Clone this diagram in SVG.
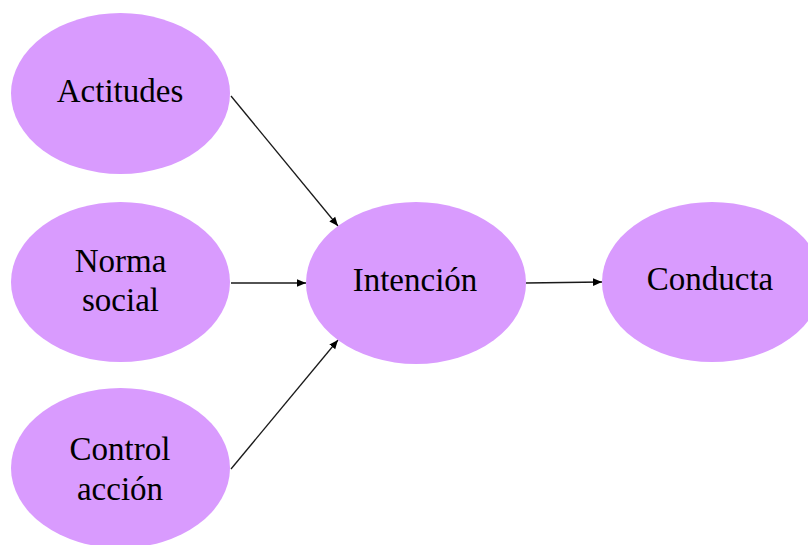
<svg xmlns="http://www.w3.org/2000/svg" width="808" height="545" viewBox="0 0 808 545">
  <style>
    .node { fill: #D99BFE; stroke: none; }
    .label { font-family: "Liberation Serif", "Times New Roman", serif; font-size: 33px; fill: #000; text-anchor: middle; }
    .edge { stroke: #1a1a1a; stroke-width: 1.3; fill: none; marker-end: url(#arrow); }
  </style>
  <defs>
    <marker id="arrow" viewBox="0 0 10 10" refX="10" refY="5" markerWidth="9" markerHeight="9" markerUnits="userSpaceOnUse" orient="auto">
      <path d="M0,0.8 L10,5 L0,9.2 Z" fill="#000"/>
    </marker>
  </defs>
  <rect width="808" height="545" fill="#fff"/>
  <g id="connectors">
    <line class="edge" x1="231" y1="96" x2="338" y2="226"/>
    <line class="edge" x1="231" y1="283" x2="306" y2="283"/>
    <line class="edge" x1="231" y1="469" x2="338" y2="340"/>
    <line class="edge" x1="526" y1="283" x2="602" y2="282"/>
  </g>
  <g id="actitudes">
    <ellipse class="node" cx="120.5" cy="93.5" rx="109.5" ry="80.5"/>
    <text class="label" x="120" y="102">Actitudes</text>
  </g>
  <g id="norma-social">
    <ellipse class="node" cx="120.5" cy="282" rx="109.5" ry="80"/>
    <text class="label" x="120.5" y="272">Norma</text>
    <text class="label" x="120.5" y="311">social</text>
  </g>
  <g id="control-accion">
    <ellipse class="node" cx="120.5" cy="468" rx="109.5" ry="80"/>
    <text class="label" x="120" y="460">Control</text>
    <text class="label" x="120" y="500">acción</text>
  </g>
  <g id="intencion">
    <ellipse class="node" cx="416" cy="283" rx="110" ry="81"/>
    <text class="label" x="415" y="291">Intención</text>
  </g>
  <g id="conducta">
    <ellipse class="node" cx="712" cy="282" rx="110" ry="80"/>
    <text class="label" x="710" y="290">Conducta</text>
  </g>
</svg>
